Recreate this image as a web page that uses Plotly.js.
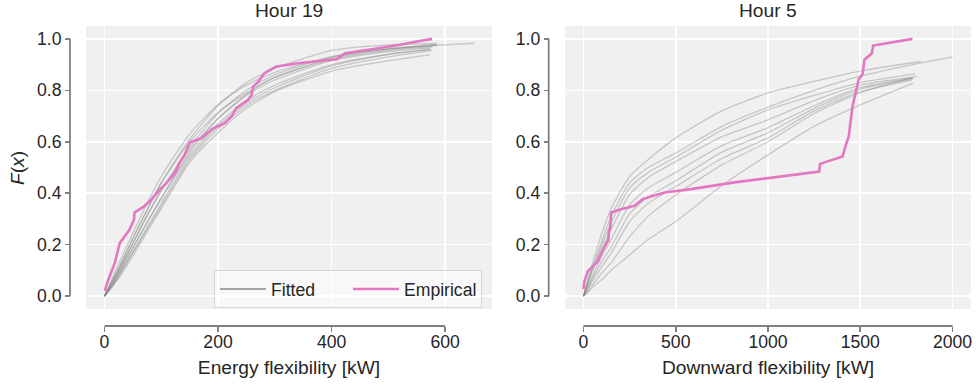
<!DOCTYPE html>
<html>
<head>
<meta charset="utf-8">
<script src="https://cdn.plot.ly/plotly-3.0.1.min.js"></script>
<style>html,body{margin:0;padding:0;background:#fff;}#chart{width:976px;height:385px;}</style>
</head>
<body>
<div id="chart"></div>
<script>
// ---------- data ----------
const panelTitles = ["Hour 19", "Hour 5"];
const xLabels = ["Energy flexibility [kW]", "Downward flexibility [kW]"];
const yLabel = "<i>F</i>(<i>x</i>)";
const legendNames = ["Fitted", "Empirical"];

// Hour 19 fitted CDFs
const h19FitX = [
  [0,10,25,50,75,100,150,200,250,300,400,500,585],
  [0,10,25,50,75,100,150,200,250,300,400,500,585],
  [0,10,25,50,75,100,150,200,250,300,400,500,578],
  [0,10,25,50,75,100,150,200,250,300,400,500,600,651],
  [0,10,25,50,75,100,150,200,250,300,400,500,575],
  [0,10,25,50,75,100,150,200,250,300,400,500,585],
  [0,10,25,50,75,100,150,200,250,300,400,500,573],
  [0,10,25,50,75,100,150,200,250,300,400,500,575],
  [0,10,25,50,75,100,150,200,250,300,400,500,578],
  [0,10,25,50,75,100,150,200,250,300,400,500,573]
];
const h19FitY = [
  [0,0.05,0.125,0.245,0.36,0.465,0.63,0.745,0.82,0.87,0.93,0.96,0.975],
  [0,0.04,0.105,0.225,0.335,0.44,0.61,0.74,0.83,0.885,0.955,0.977,0.982],
  [0,0.045,0.11,0.225,0.335,0.44,0.60,0.715,0.79,0.85,0.92,0.955,0.97],
  [0,0.035,0.095,0.205,0.315,0.41,0.58,0.71,0.80,0.86,0.93,0.962,0.977,0.983],
  [0,0.04,0.10,0.205,0.31,0.41,0.57,0.69,0.78,0.84,0.915,0.95,0.965],
  [0,0.03,0.085,0.185,0.285,0.38,0.56,0.69,0.785,0.85,0.925,0.96,0.978],
  [0,0.035,0.09,0.19,0.285,0.38,0.55,0.67,0.76,0.82,0.90,0.94,0.96],
  [0,0.027,0.075,0.17,0.265,0.36,0.54,0.66,0.75,0.81,0.895,0.94,0.958],
  [0,0.03,0.08,0.17,0.26,0.35,0.53,0.65,0.74,0.80,0.885,0.93,0.955],
  [0,0.025,0.07,0.155,0.25,0.34,0.52,0.635,0.73,0.795,0.875,0.915,0.938]
];
// Hour 19 empirical CDF
const h19EmpX = [1,3,9,18,27,35,44,52,53,68,82,97,109,124,132,141,150,171,190,212,224,232,253,259,262,271,282,303,344,409,424,462,521,550,577];
const h19EmpY = [0.02,0.04,0.076,0.128,0.206,0.232,0.258,0.297,0.325,0.346,0.374,0.413,0.439,0.478,0.517,0.549,0.597,0.614,0.65,0.672,0.698,0.731,0.763,0.782,0.815,0.834,0.867,0.893,0.906,0.921,0.944,0.957,0.977,0.99,1.0];

// Hour 5 fitted CDFs
const h5FitX = [
  [0,25,50,100,150,250,350,500,750,1000,1250,1500,1829],
  [0,25,50,100,150,250,350,500,750,1000,1250,1500,1750,2000],
  [0,25,50,100,150,250,350,500,750,1000,1250,1500,1798],
  [0,25,50,100,150,250,350,500,750,1000,1250,1500,1806],
  [0,25,50,100,150,250,350,500,750,1000,1250,1500,1780],
  [0,25,50,100,150,250,350,500,750,1000,1250,1500,1787],
  [0,25,50,100,150,250,350,500,750,1000,1250,1500,1780],
  [0,25,50,100,150,250,350,500,750,1000,1250,1500,1787],
  [0,25,50,100,150,250,350,500,750,1000,1250,1500,1787]
];
const h5FitY = [
  [0,0.07,0.13,0.245,0.34,0.465,0.53,0.615,0.72,0.79,0.835,0.875,0.912],
  [0,0.06,0.115,0.215,0.31,0.44,0.50,0.556,0.66,0.735,0.80,0.855,0.895,0.93],
  [0,0.055,0.105,0.20,0.285,0.42,0.48,0.54,0.645,0.724,0.78,0.83,0.864],
  [0,0.05,0.10,0.185,0.26,0.395,0.46,0.523,0.62,0.685,0.76,0.82,0.853],
  [0,0.04,0.08,0.155,0.22,0.355,0.42,0.481,0.585,0.655,0.74,0.81,0.848],
  [0,0.035,0.07,0.135,0.19,0.32,0.385,0.448,0.56,0.635,0.73,0.805,0.845],
  [0,0.03,0.06,0.115,0.167,0.29,0.36,0.426,0.535,0.615,0.72,0.795,0.84],
  [0,0.02,0.045,0.09,0.13,0.23,0.31,0.393,0.51,0.60,0.71,0.79,0.85],
  [0,0.015,0.035,0.065,0.10,0.16,0.22,0.29,0.43,0.549,0.66,0.743,0.828]
];
// Hour 5 empirical CDF
const h5EmpX = [0,5,23,60,77,105,123,135,137,146,150,204,276,321,439,583,818,1278,1282,1404,1419,1437,1458,1477,1491,1513,1522,1563,1570,1783];
const h5EmpY = [0.027,0.057,0.096,0.122,0.135,0.18,0.206,0.219,0.245,0.27,0.325,0.338,0.351,0.377,0.403,0.416,0.442,0.484,0.514,0.543,0.581,0.62,0.737,0.795,0.841,0.864,0.918,0.944,0.974,1.0];

// ---------- styling ----------
const FONT = "Liberation Sans, Arial, Helvetica, sans-serif";
const TXT = "#262626";
const SPINE = "#808080";
const BG = "#f0f0f0";
const FIT_COLOR = "rgba(128,128,128,0.38)";
const EMP_COLOR = "#e377c2";
const W = 976, H = 385;
const px = v => v / W;
const py = v => (H - v) / H;

const traces = [];
function addPanel(fx, fy, ex, ey, xa, ya, legend) {
  fx.forEach((xs, i) => {
    traces.push({x: xs, y: fy[i], xaxis: xa, yaxis: ya, type: 'scatter', mode: 'lines',
      line: {color: FIT_COLOR, width: 1.3, shape: 'spline', smoothing: 0.6},
      showlegend: false, hoverinfo: 'skip'});
  });
  if (legend) {
    traces.push({x: [null], y: [null], xaxis: xa, yaxis: ya, type: 'scatter', mode: 'lines',
      name: legendNames[0], line: {color: '#8a8a8a', width: 1.5}, showlegend: true});
  }
  traces.push({x: ex, y: ey, xaxis: xa, yaxis: ya, type: 'scatter', mode: 'lines',
    name: legendNames[1], line: {color: EMP_COLOR, width: 2.6}, showlegend: legend});
}
addPanel(h19FitX, h19FitY, h19EmpX, h19EmpY, 'x', 'y', true);
addPanel(h5FitX, h5FitY, h5EmpX, h5EmpY, 'x2', 'y2', false);

const yDom = [py(326), py(26)];
const yRange = [-0.1162, 1.05];
const tickFont = {family: FONT, size: 17.6, color: TXT};
const titleFont = {family: FONT, size: 19.2, color: TXT};

function xAxis(domain, range, dtick, anchor, title) {
  return {domain: domain, range: range, dtick: dtick, tick0: 0, anchor: anchor,
    showgrid: true, gridcolor: '#ffffff', gridwidth: 1.6, zeroline: false,
    showline: false, ticks: 'outside', ticklen: 5, tickwidth: 1.6, tickcolor: SPINE,
    ticklabelstandoff: -5,
    tickfont: tickFont, title: {text: title, font: titleFont, standoff: 9}, automargin: false};
}
function yAxis(pos) {
  return {domain: yDom, range: yRange, dtick: 0.2, tick0: 0, tickformat: '.1f',
    anchor: 'free', position: pos,
    showgrid: true, gridcolor: '#ffffff', gridwidth: 1.6, zeroline: false,
    showline: false, ticks: 'outside', ticklen: 5, tickwidth: 1.6, tickcolor: SPINE,
    tickfont: tickFont, automargin: false};
}

const layout = {
  width: W, height: H,
  margin: {l: 0, r: 0, t: 0, b: 0},
  paper_bgcolor: '#ffffff', plot_bgcolor: '#ffffff',
  font: {family: FONT, color: TXT},
  xaxis: xAxis([px(86), px(492)], [-32.5, 682.5], 200, 'y', xLabels[0]),
  yaxis: yAxis(px(70)),
  xaxis2: xAxis([px(565), px(971)], [-100, 2100], 500, 'y2', xLabels[1]),
  yaxis2: yAxis(px(548.7)),
  showlegend: true,
  legend: {orientation: 'h', x: px(214), y: py(270), xanchor: 'left', yanchor: 'top',
    bgcolor: 'rgba(255,255,255,0.55)', bordercolor: '#d6d6d6', borderwidth: 1,
    font: {family: FONT, size: 17.6, color: TXT}, itemwidth: 46, entrywidth: 72, entrywidthmode: 'pixels',
    traceorder: 'normal'},
  shapes: [
    {type: 'rect', xref: 'x domain', yref: 'y', x0: 0, x1: 1, y0: -0.05, y1: 1.05, fillcolor: BG, line: {width: 0}, layer: 'below'},
    {type: 'rect', xref: 'x2 domain', yref: 'y2', x0: 0, x1: 1, y0: -0.05, y1: 1.05, fillcolor: BG, line: {width: 0}, layer: 'below'},
    {type: 'line', xref: 'paper', yref: 'y', x0: px(70), x1: px(70), y0: 0, y1: 1, line: {color: SPINE, width: 1.8}},
    {type: 'line', xref: 'x', yref: 'y domain', x0: 0, x1: 600, y0: 0, y1: 0, line: {color: SPINE, width: 1.8}},
    {type: 'line', xref: 'paper', yref: 'y2', x0: px(548.7), x1: px(548.7), y0: 0, y1: 1, line: {color: SPINE, width: 1.8}},
    {type: 'line', xref: 'x2', yref: 'y2 domain', x0: 0, x1: 2000, y0: 0, y1: 0, line: {color: SPINE, width: 1.8}}
  ],
  annotations: [
    {text: panelTitles[0], xref: 'paper', yref: 'paper', x: px(289), y: py(10), xanchor: 'center', yanchor: 'middle', showarrow: false, font: titleFont},
    {text: panelTitles[1], xref: 'paper', yref: 'paper', x: px(768), y: py(10), xanchor: 'center', yanchor: 'middle', showarrow: false, font: titleFont},
    {text: yLabel, xref: 'paper', yref: 'paper', x: px(17), y: py(168), xanchor: 'center', yanchor: 'middle', textangle: -90, showarrow: false, font: titleFont}
  ]
};

Plotly.newPlot('chart', traces, layout, {staticPlot: true, displayModeBar: false});
</script>
</body>
</html>
